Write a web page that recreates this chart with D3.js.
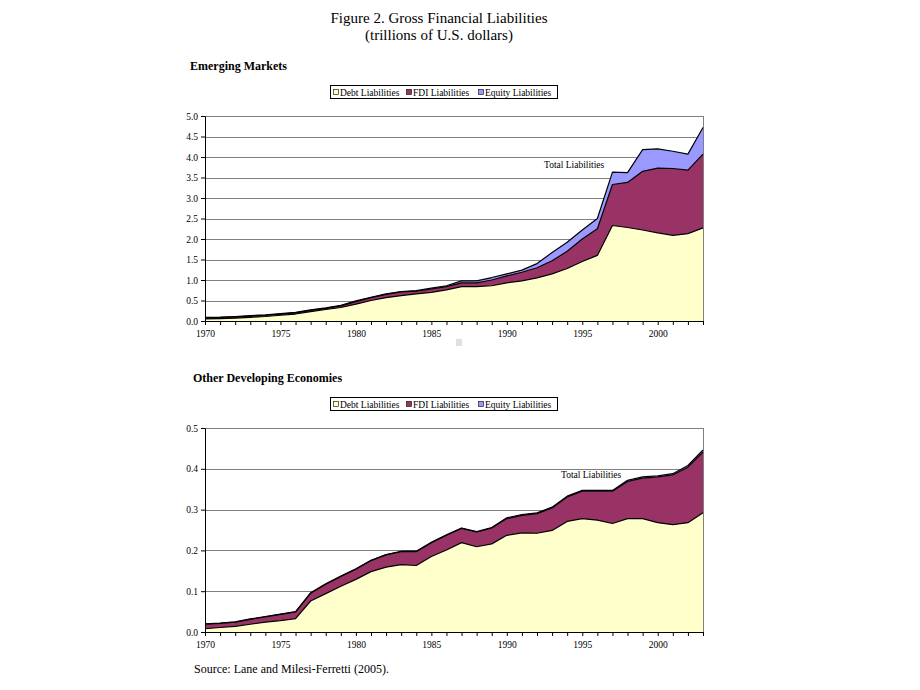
<!DOCTYPE html>
<html><head><meta charset="utf-8">
<script src="https://cdn.jsdelivr.net/npm/d3@7"></script>
<style>body{margin:0;background:#fff}svg{display:block}text{font-family:"Liberation Serif","Times New Roman",serif;fill:#000}</style>
</head><body><svg id="c" width="920" height="690"></svg>
<script>
const years = d3.range(1970, 2004);
const seriesNames = ["Debt Liabilities", "FDI Liabilities", "Equity Liabilities"];
const xTickYears = [1970, 1975, 1980, 1985, 1990, 1995, 2000];

// Emerging Markets (trillions of US$)
const emDebt = [0.05,0.057,0.07,0.09,0.11,0.14,0.17,0.23,0.28,0.33,0.41,0.50,0.57,0.62,0.66,0.70,0.76,0.84,0.84,0.86,0.93,0.98,1.05,1.15,1.28,1.45,1.60,2.33,2.28,2.22,2.15,2.09,2.13,2.27];
const emFDI = [0.03,0.028,0.03,0.03,0.03,0.03,0.03,0.03,0.03,0.04,0.06,0.07,0.08,0.09,0.07,0.08,0.08,0.09,0.09,0.14,0.17,0.21,0.25,0.32,0.42,0.55,0.65,1.00,1.10,1.43,1.58,1.63,1.55,1.80];
const emEquity = [0.01,0.01,0.01,0.01,0.01,0.01,0.01,0.01,0.01,0.01,0.02,0.01,0.01,0.01,0.01,0.02,0.02,0.05,0.05,0.06,0.05,0.05,0.10,0.20,0.22,0.22,0.25,0.30,0.24,0.53,0.47,0.42,0.39,0.65];
const emTicks = [0,0.5,1.0,1.5,2.0,2.5,3.0,3.5,4.0,4.5,5.0];

// Other Developing Economies
const odDebt = [0.008,0.011,0.014,0.019,0.024,0.028,0.033,0.076,0.094,0.112,0.129,0.148,0.159,0.165,0.163,0.185,0.201,0.219,0.209,0.216,0.237,0.243,0.242,0.249,0.271,0.278,0.274,0.266,0.278,0.278,0.268,0.263,0.268,0.292];
const odFDI = [0.011,0.010,0.010,0.012,0.013,0.015,0.016,0.019,0.023,0.024,0.025,0.027,0.030,0.032,0.034,0.034,0.036,0.035,0.036,0.039,0.041,0.043,0.048,0.055,0.060,0.067,0.071,0.079,0.091,0.099,0.112,0.122,0.136,0.149];
const odEquity = [0.001,0.001,0.001,0.001,0.001,0.001,0.001,0.001,0.001,0.001,0.001,0.001,0.001,0.001,0.001,0.001,0.001,0.001,0.001,0.001,0.002,0.002,0.002,0.002,0.002,0.002,0.002,0.002,0.003,0.003,0.003,0.003,0.004,0.005];
const odTicks = [0,0.1,0.2,0.3,0.4,0.5];

const colors = ["#FFFFCC", "#993366", "#9999FF"];
const svg = d3.select("#c");

svg.append("text").attr("x",439).attr("y",23).attr("text-anchor","middle").style("font-size","15px").text("Figure 2. Gross Financial Liabilities");
svg.append("text").attr("x",439).attr("y",40).attr("text-anchor","middle").style("font-size","15px").text("(trillions of U.S. dollars)");

function panel(cfg){
  const g = svg.append("g");
  const x = d3.scaleLinear().domain([1970,2003]).range([205,703]);
  const y = d3.scaleLinear().domain([0, cfg.max]).range([cfg.bottom, cfg.top]);
  g.append("text").attr("x",cfg.titleX).attr("y",cfg.titleY).style("font-size","12px").style("font-weight","bold").text(cfg.title);
  // legend
  const lg = g.append("g");
  lg.append("rect").attr("x",330.5).attr("y",cfg.legendY+0.5).attr("width",227).attr("height",13).attr("fill","#fff").attr("stroke","#000").attr("stroke-width",1);
  const itemX = [333, 406, 478];
  seriesNames.forEach((n,i)=>{
    lg.append("rect").attr("x",itemX[i]+0.5).attr("y",cfg.legendY+4.5).attr("width",5).attr("height",5).attr("fill",colors[i]).attr("stroke","#000").attr("stroke-width",0.6);
    lg.append("text").attr("x",itemX[i]+7).attr("y",cfg.legendY+10.5).style("font-size","9.5px").text(n);
  });
  // gridlines
  g.append("g").selectAll("line").data(cfg.ticks.filter(t=>t>0)).join("line")
    .attr("x1",205).attr("x2",703).attr("y1",d=>Math.round(y(d))+0.5).attr("y2",d=>Math.round(y(d))+0.5)
    .attr("stroke","#808080").attr("stroke-width",1);
  // right border
  g.append("line").attr("x1",703.5).attr("x2",703.5).attr("y1",y(cfg.max)).attr("y2",cfg.bottom).attr("stroke","#808080");
  // stacked areas
  const data = years.map((yr,i)=>({year:yr, d:cfg.debt[i], f:cfg.fdi[i], e:cfg.eq[i]}));
  const layers = d3.stack().keys(["d","f","e"])(data);
  const area = d3.area().x(p=>x(p.data.year)).y0(p=>y(p[0])).y1(p=>y(p[1]));
  layers.forEach((L,i)=>{
    g.append("path").datum(L).attr("d",area).attr("fill",colors[i]).attr("stroke","none");
  });
  const line = d3.line().x(p=>x(p.data.year)).y(p=>y(p[1]));
  layers.forEach((L)=>{
    g.append("path").datum(L).attr("d",line).attr("fill","none").attr("stroke","#000").attr("stroke-width",1.2).attr("stroke-linejoin","round");
  });
  // axes
  const yAxis = d3.axisLeft(y).tickValues(cfg.ticks).tickFormat(d3.format(".1f")).tickSize(4).tickSizeOuter(0);
  const ya = g.append("g").attr("transform","translate(205,0)").call(yAxis);
  ya.selectAll("text").style("font-size","9.5px").attr("x",-7);
  ya.select(".domain").attr("stroke","#000");
  const xAxis = d3.axisBottom(x).tickValues(years).tickFormat(d=> xTickYears.includes(d)? String(d):"").tickSize(4).tickSizeOuter(0);
  const xa = g.append("g").attr("transform",`translate(0,${cfg.bottom})`).call(xAxis);
  xa.selectAll("text").style("font-size","9.5px").attr("dy","0.9em");
  xa.select(".domain").attr("stroke","#000");
  g.append("text").attr("x",cfg.totalX).attr("y",cfg.totalY).style("font-size","9.5px").text("Total Liabilities");
}

panel({title:"Emerging Markets", titleX:190, titleY:70, legendY:85, top:116, bottom:321, max:5.0, ticks:emTicks,
  debt:emDebt, fdi:emFDI, eq:emEquity, totalX:544, totalY:168});
panel({title:"Other Developing Economies", titleX:193, titleY:382, legendY:397, top:428, bottom:632, max:0.5, ticks:odTicks,
  debt:odDebt, fdi:odFDI, eq:odEquity, totalX:561, totalY:478});

svg.append("rect").attr("x",456).attr("y",339).attr("width",6).attr("height",7).attr("fill","#e0e0e0");
svg.append("text").attr("x",194).attr("y",673).style("font-size","12px").text("Source: Lane and Milesi-Ferretti (2005).");
</script></body></html>
